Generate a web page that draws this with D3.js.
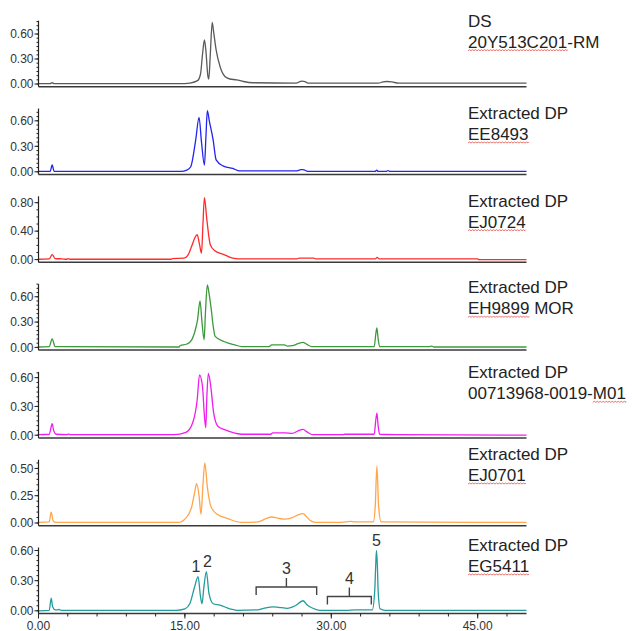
<!DOCTYPE html>
<html>
<head>
<meta charset="utf-8">
<script src="https://cdn.jsdelivr.net/npm/d3@7"></script>
<style>
  body { margin: 0; background: #fff; }
  svg { display: block; font-family: "Liberation Sans", Arial, sans-serif; }
</style>
</head>
<body>
<div id="chart"></div>
<script>
// retention time (min) / absorbance pairs
const traceDS = [[0,0.005],[1.2,0.005],[1.4,0.015],[1.6,0.005],[15.0,0.005],[15.5,0.01],[16.3,0.04],[16.6,0.12],[16.8,0.35],[17.0,0.53],[17.15,0.4],[17.35,0.1],[17.45,0.06],[17.6,0.35],[17.8,0.74],[17.95,0.62],[18.2,0.41],[18.6,0.21],[19.1,0.09],[19.6,0.06],[20.3,0.05],[21.0,0.03],[22.0,0.015],[26.4,0.01],[26.8,0.03],[27.0,0.035],[27.3,0.03],[27.6,0.01],[34.8,0.01],[35.3,0.025],[35.7,0.03],[36.2,0.025],[36.9,0.01],[50,0.01]];
const traceEE8493 = [[0,0.005],[1.2,0.005],[1.4,0.08],[1.6,0.005],[14.6,0.005],[15.2,0.02],[15.6,0.06],[16.1,0.37],[16.45,0.64],[16.7,0.35],[17.0,0.08],[17.15,0.4],[17.3,0.72],[17.5,0.6],[17.9,0.37],[18.2,0.14],[18.9,0.07],[19.9,0.04],[20.6,0.01],[26.4,0.01],[26.9,0.025],[27.1,0.025],[27.6,0.005],[34.5,0.005],[34.65,0.02],[34.8,0.005],[35.6,0.005],[35.8,0.015],[36.0,0.005],[50,0.005]];
const traceEJ0724 = [[0,0.005],[1.1,0.01],[1.4,0.07],[1.7,0.015],[2.4,0.01],[2.9,0.005],[3.06,0.015],[3.2,0.005],[13.6,0.005],[13.7,0.015],[14.9,0.02],[15.3,0.06],[15.7,0.19],[16.0,0.3],[16.26,0.35],[16.5,0.21],[16.7,0.09],[16.85,0.5],[17.0,0.87],[17.25,0.56],[17.6,0.21],[18.1,0.12],[19.0,0.07],[19.9,0.02],[20.5,0.01],[26.5,0.01],[26.7,0.02],[28.2,0.02],[28.4,0.01],[34.5,0.01],[34.7,0.03],[34.9,0.01],[45,0.01],[45.1,0.0],[50,0.0]];
const traceEH9899 = [[0,0.005],[1.1,0.01],[1.4,0.10],[1.7,0.01],[14.4,0.005],[14.5,0.02],[15.2,0.04],[15.7,0.09],[16.0,0.18],[16.3,0.33],[16.55,0.55],[16.75,0.3],[16.97,0.09],[17.1,0.4],[17.3,0.74],[17.5,0.62],[17.7,0.45],[17.9,0.25],[18.1,0.13],[19.0,0.07],[20.1,0.03],[20.8,0.01],[23.6,0.01],[23.9,0.03],[25.2,0.03],[25.5,0.015],[26.0,0.02],[26.6,0.045],[27.1,0.06],[27.5,0.035],[28.0,0.01],[34.4,0.01],[34.55,0.15],[34.67,0.23],[34.8,0.1],[34.95,0.01],[40.0,0.01],[40.3,0.015],[40.5,0.005],[50,0.005]];
const trace00713968 = [[0,0.005],[1.1,0.01],[1.4,0.12],[1.55,0.05],[1.8,0.01],[2.9,0.005],[3.06,0.012],[3.3,0.005],[13.9,0.005],[15.1,0.03],[15.8,0.13],[16.26,0.37],[16.5,0.63],[16.8,0.51],[17.0,0.2],[17.14,0.08],[17.25,0.4],[17.4,0.645],[17.65,0.51],[17.95,0.23],[18.4,0.09],[19.0,0.06],[20.2,0.02],[20.8,0.01],[23.8,0.01],[24.0,0.025],[25.3,0.025],[26.0,0.02],[26.6,0.045],[27.1,0.06],[27.5,0.035],[27.8,0.015],[28.2,0.005],[31.2,0.005],[31.4,0.01],[34.4,0.01],[34.55,0.15],[34.67,0.23],[34.8,0.1],[34.95,0.01],[36.5,0.005],[50,0.0]];
const traceEJ0701 = [[0,0.005],[1.1,0.01],[1.3,0.10],[1.5,0.02],[1.8,0.005],[14.3,0.005],[15.1,0.045],[15.7,0.15],[16.0,0.28],[16.2,0.36],[16.45,0.25],[16.65,0.08],[16.85,0.35],[17.04,0.55],[17.3,0.33],[17.67,0.15],[18.3,0.08],[19.4,0.04],[20.8,0.005],[22.5,0.01],[23.3,0.04],[23.9,0.055],[24.5,0.045],[25.2,0.035],[26.0,0.05],[26.6,0.075],[27.1,0.085],[27.5,0.055],[27.9,0.02],[28.5,0.005],[30.5,0.005],[31.5,0.01],[32.0,0.015],[32.4,0.01],[34.3,0.01],[34.5,0.15],[34.67,0.52],[34.85,0.15],[35.1,0.01],[50,0.005]];
const traceEG5411 = [[0,0.0],[1.1,0.005],[1.3,0.125],[1.45,0.04],[1.7,0.01],[2.0,0.01],[2.08,0.015],[2.3,0.005],[14.1,0.005],[15.0,0.02],[15.5,0.07],[16.0,0.24],[16.35,0.34],[16.6,0.14],[16.75,0.07],[16.95,0.24],[17.2,0.39],[17.47,0.17],[17.9,0.07],[18.6,0.056],[19.6,0.02],[20.3,0.005],[22.5,0.01],[23.3,0.03],[24.0,0.04],[24.6,0.035],[25.5,0.025],[26.3,0.05],[27.1,0.10],[27.5,0.06],[28.0,0.03],[28.8,0.005],[31.5,0.005],[32.5,0.01],[33.8,0.01],[34.2,0.01],[34.45,0.2],[34.55,0.45],[34.63,0.60],[34.72,0.45],[34.8,0.2],[35.0,0.02],[35.5,0.005],[50,0.005]];

const traces = [traceDS, traceEE8493, traceEJ0724, traceEH9899, trace00713968, traceEJ0701, traceEG5411];
const titleLine1 = ["DS", "Extracted DP", "Extracted DP", "Extracted DP", "Extracted DP", "Extracted DP", "Extracted DP"];
const titleLine2 = ["20Y513C201-RM", "EE8493", "EJ0724", "EH9899 MOR", "00713968-0019-M01", "EJ0701", "EG5411"];
const squiggle = [[0,10],[0,6],[0,6],[0,6],[14,17],[0,6],[0,6]];   // spell-check underline char range
const yMaxes = [0.76, 0.745, 0.89, 0.75, 0.66, 0.58, 0.63];
const yTickStep = [0.3, 0.3, 0.4, 0.3, 0.3, 0.25, 0.3];
const yMinorStep = [0.05, 0.05, 0.1, 0.05, 0.05, 0.05, 0.05];
const colors = ["#5a5a5a", "#2424f0", "#ff2a2a", "#3c9a3c", "#f01cf0", "#ffa64a", "#239c9c"];
const xTicks = [0, 15, 30, 45];
const peakLabels = [{t: 16.35, v: 0.34, text: "1"}, {t: 17.2, v: 0.39, text: "2"}, {t: 34.63, v: 0.60, text: "5"}];
const brackets = [{from: 22.3, to: 28.5, text: "3"}, {from: 29.6, to: 34.1, text: "4"}];

const W = 632, H = 631;
const pitch = 87.8, firstAxis = 86.7, axisH = 66, zeroGap = 2.7;
const labelY = [26.7, 119, 206.7, 293.3, 378.3, 460, 551];

const svg = d3.select("#chart").append("svg")
    .attr("width", W)
    .attr("height", H);

const x = d3.scaleLinear().domain([0, 50]).range([38.5, 526.5]);

function range(step, max) {
    const out = [];
    for (let i = 0; i * step <= max + 1e-9; i++) out.push(+(i * step).toFixed(3));
    return out;
}

traces.forEach((trace, i) => {
    const bottom = firstAxis + i * pitch;
    const y = d3.scaleLinear().domain([0, yMaxes[i]]).range([bottom - zeroGap, bottom - axisH]);
    const g = svg.append("g");

    // trace
    const line = d3.line()
        .x(d => x(d[0]))
        .y(d => y(d[1]))
        .curve(d3.curveMonotoneX);
    g.append("path")
        .datum(trace)
        .attr("fill", "none")
        .attr("stroke", colors[i])
        .attr("stroke-width", 1.3)
        .attr("d", line);

    // x axis line
    g.append("line")
        .attr("x1", x(0)).attr("x2", x(50))
        .attr("y1", bottom).attr("y2", bottom)
        .attr("stroke", "#3a3a3a")
        .attr("stroke-width", 1.5);

    // y axis with minor ticks
    const ya = g.append("g").attr("transform", `translate(${x(0)},0)`);
    ya.append("line")
        .attr("y1", bottom).attr("y2", bottom - axisH)
        .attr("stroke", "#222").attr("stroke-width", 1.2);
    ya.selectAll(".minor").data(range(yMinorStep[i], yMaxes[i]))
        .join("line")
        .attr("x1", -2).attr("x2", 0)
        .attr("y1", d => y(d)).attr("y2", d => y(d))
        .attr("stroke", "#222").attr("stroke-width", 1);
    const majors = range(yTickStep[i], yMaxes[i]);
    ya.selectAll(".major").data(majors)
        .join("line")
        .attr("x1", -4).attr("x2", 0)
        .attr("y1", d => y(d)).attr("y2", d => y(d))
        .attr("stroke", "#222").attr("stroke-width", 1);
    ya.selectAll("text").data(majors)
        .join("text")
        .attr("x", -5)
        .attr("y", d => y(d))
        .attr("dy", "0.36em")
        .attr("text-anchor", "end")
        .style("font-size", "12px")
        .attr("fill", "#333")
        .text(d => d.toFixed(2));

    // sample title
    const tx = 468;
    g.append("text")
        .attr("x", tx).attr("y", labelY[i])
        .style("font-size", "17px").attr("fill", "#222")
        .text(titleLine1[i]);
    const t2 = g.append("text")
        .attr("x", tx).attr("y", labelY[i] + 21)
        .style("font-size", "17px").attr("fill", "#222")
        .text(titleLine2[i]);

    // red wavy spell-check underline
    const node = t2.node();
    const [s, e] = squiggle[i];
    const sx = tx + (s > 0 ? node.getSubStringLength(0, s) : 0);
    const ex = tx + node.getSubStringLength(0, e);
    const wy = labelY[i] + 24;
    let p = `M${sx},${wy}`;
    for (let k = sx, up = true; k < ex; k += 1.5, up = !up) {
        p += ` L${Math.min(k + 1.5, ex)},${wy + (up ? -1 : 0)}`;
    }
    g.append("path").attr("d", p)
        .attr("fill", "none").attr("stroke", "#e0504a").attr("stroke-width", 0.8);

    // bottom panel: time axis and annotations
    if (i === traces.length - 1) {
        const xa = g.append("g").attr("transform", `translate(0,${bottom})`);
        xa.selectAll(".minor").data(d3.range(0, 51, 3))
            .join("line")
            .attr("x1", d => x(d)).attr("x2", d => x(d))
            .attr("y1", 0).attr("y2", 3)
            .attr("stroke", "#222");
        xa.selectAll(".major").data(xTicks)
            .join("line")
            .attr("x1", d => x(d)).attr("x2", d => x(d))
            .attr("y1", 0).attr("y2", 5)
            .attr("stroke", "#222");
        xa.selectAll("text").data(xTicks)
            .join("text")
            .attr("x", d => x(d))
            .attr("y", 16)
            .attr("text-anchor", "middle")
            .style("font-size", "12px")
            .attr("fill", "#333")
            .text(d => d.toFixed(2));

        g.selectAll(".peak").data(peakLabels)
            .join("text")
            .attr("x", d => x(d.t) + (d.text === "1" ? -2 : d.text === "2" ? 1 : 0))
            .attr("y", d => y(d.v) - 5)
            .attr("text-anchor", "middle")
            .style("font-size", "16px")
            .attr("fill", "#333")
            .text(d => d.text);

        const bracketTop = [587, 596.5];
        brackets.forEach((b, j) => {
            const x0 = x(b.from), x1 = x(b.to), xm = (x0 + x1) / 2, by = bracketTop[j];
            g.append("path")
                .attr("d", `M${x0},${by + 8} L${x0},${by} L${x1},${by} L${x1},${by + 8} M${xm},${by} L${xm},${by - 9}`)
                .attr("fill", "none")
                .attr("stroke", "#444")
                .attr("stroke-width", 1.4);
            g.append("text")
                .attr("x", xm).attr("y", by - 13)
                .attr("text-anchor", "middle")
                .style("font-size", "16px")
                .attr("fill", "#333")
                .text(b.text);
        });
    }
});
</script>
</body>
</html>
